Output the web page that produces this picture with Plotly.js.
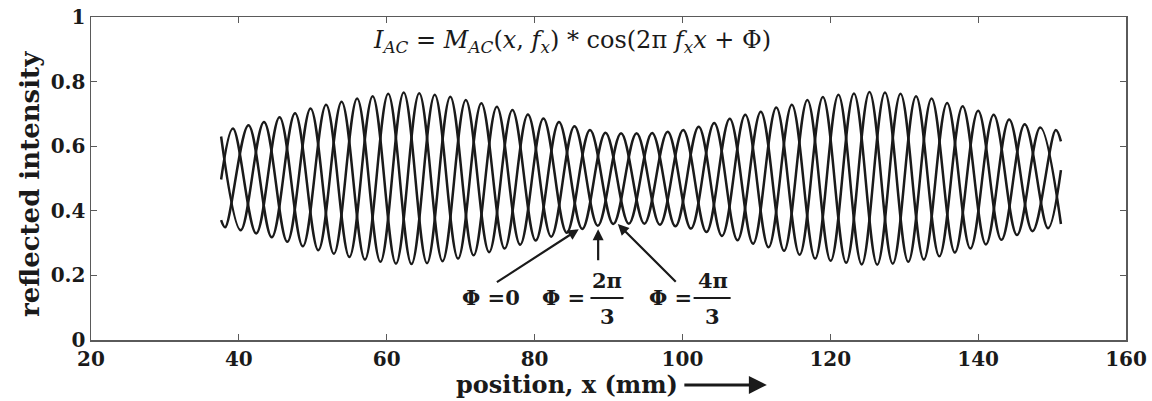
<!DOCTYPE html>
<html>
<head>
<meta charset="utf-8">
<script src="https://cdn.plot.ly/plotly-3.0.1.min.js"></script>
<style>
  body { margin: 0; background: #fff; }
  #chart { width: 1152px; height: 401px; }
</style>
</head>
<body>
<div id="chart"></div>
<script>
// peaks and troughs of each fringe curve (x in mm)
let xPhi0 = [37.6, 39.2, 42.35, 45.5, 48.65, 51.8, 54.95, 58.1, 61.25, 64.4, 67.55, 70.7, 73.85, 77.0,
  80.15, 83.3, 86.45, 89.6, 92.75, 95.9, 99.05, 102.2, 105.35, 108.5, 111.65, 114.8, 117.95, 121.1,
  124.25, 127.4, 130.55, 133.7, 136.85, 140.0, 143.15, 146.3, 149.45, 151.2];
let yPhi0 = [0.497, 0.655, 0.330, 0.690, 0.290, 0.728, 0.257, 0.755, 0.236, 0.764, 0.244, 0.743, 0.272,
  0.712, 0.308, 0.675, 0.344, 0.642, 0.360, 0.641, 0.352, 0.660, 0.322, 0.697, 0.287, 0.728, 0.252,
  0.759, 0.234, 0.766, 0.242, 0.748, 0.271, 0.710, 0.310, 0.668, 0.346, 0.526];

let xPhi2 = [37.6, 38.15, 41.3, 44.45, 47.6, 50.75, 53.9, 57.05, 60.2, 63.35, 66.5, 69.65, 72.8, 75.95,
  79.1, 82.25, 85.4, 88.55, 91.7, 94.85, 98.0, 101.15, 104.3, 107.45, 110.6, 113.75, 116.9, 120.05,
  123.2, 126.35, 129.5, 132.65, 135.8, 138.95, 142.1, 145.25, 148.4, 151.2];
let yPhi2 = [0.371, 0.349, 0.665, 0.318, 0.702, 0.278, 0.738, 0.249, 0.762, 0.235, 0.759, 0.252, 0.733,
  0.283, 0.698, 0.320, 0.662, 0.354, 0.640, 0.360, 0.645, 0.345, 0.672, 0.309, 0.707, 0.276, 0.743,
  0.245, 0.763, 0.233, 0.762, 0.249, 0.734, 0.283, 0.697, 0.325, 0.658, 0.359];

let xPhi4 = [37.6, 40.25, 43.4, 46.55, 49.7, 52.85, 56.0, 59.15, 62.3, 65.45, 68.6, 71.75, 74.9, 78.05,
  81.2, 84.35, 87.5, 90.65, 93.8, 96.95, 100.1, 103.25, 106.4, 109.55, 112.7, 115.85, 119.0, 122.15,
  125.3, 128.45, 131.6, 134.75, 137.9, 141.05, 144.2, 147.35, 150.5, 151.2];
let yPhi4 = [0.630, 0.340, 0.675, 0.304, 0.717, 0.267, 0.748, 0.242, 0.766, 0.238, 0.753, 0.262, 0.722,
  0.295, 0.686, 0.332, 0.650, 0.359, 0.640, 0.357, 0.650, 0.334, 0.685, 0.298, 0.720, 0.264, 0.752,
  0.239, 0.768, 0.236, 0.755, 0.259, 0.724, 0.296, 0.683, 0.337, 0.650, 0.615];

let phaseNames = ['Φ = 0', 'Φ = 2π/3', 'Φ = 4π/3'];

let serif = 'DejaVu Serif';
let ink = '#1a1a1a';

function fringe(x, y, name) {
  return {
    x: x,
    y: y,
    name: name,
    type: 'scatter',
    mode: 'lines',
    line: { color: ink, width: 2.5, shape: 'spline', smoothing: 1 },
    hoverinfo: 'skip'
  };
}

let traces = [
  fringe(xPhi0, yPhi0, phaseNames[0]),
  fringe(xPhi2, yPhi2, phaseNames[1]),
  fringe(xPhi4, yPhi4, phaseNames[2])
];

let axisStyle = {
  showgrid: false,
  zeroline: false,
  showline: true,
  linecolor: '#5a5a5a',
  linewidth: 1.5,
  mirror: 'ticks',
  ticks: 'inside',
  ticklen: 6,
  tickwidth: 1.2,
  tickcolor: '#5a5a5a',
  tickfont: { family: serif, size: 20, color: ink, weight: 'bold' },
  fixedrange: true
};

let boldFont = { family: serif, size: 21, color: ink, weight: 'bold' };

function label(x, y, text) {
  return { x: x, y: y, xref: 'x', yref: 'y', text: text, showarrow: false,
    xanchor: 'center', yanchor: 'middle', font: boldFont };
}

function pointer(x, y, ax, ay) {
  return { x: x, y: y, ax: ax, ay: ay, xref: 'x', yref: 'y', axref: 'x', ayref: 'y',
    text: '', showarrow: true, arrowhead: 2, arrowsize: 1, arrowwidth: 2.2,
    arrowcolor: ink, standoff: 0 };
}

let layout = {
  width: 1152,
  height: 401,
  margin: { l: 91, r: 26, t: 17, b: 61 },
  paper_bgcolor: '#fff',
  plot_bgcolor: '#fff',
  showlegend: false,
  xaxis: Object.assign({ range: [20, 160], tick0: 20, dtick: 20 }, axisStyle),
  yaxis: Object.assign({ range: [0, 1], tick0: 0, dtick: 0.2 }, axisStyle),
  shapes: [
    { type: 'line', xref: 'x', yref: 'y', x0: 87.56, x1: 92.03, y0: 0.13, y1: 0.13,
      line: { color: ink, width: 2 } },
    { type: 'line', xref: 'x', yref: 'y', x0: 101.51, x1: 106.52, y0: 0.13, y1: 0.13,
      line: { color: ink, width: 2 } }
  ],
  annotations: [
    {
      x: 85.1, y: 0.923, xref: 'x', yref: 'y', showarrow: false,
      xanchor: 'center', yanchor: 'middle',
      text: '<i>I</i><sub><i>AC</i></sub> = <i>M</i><sub><i>AC</i></sub>(<i>x</i>, <i>f</i><sub><i>x</i></sub>) * cos(2π <i>f</i><sub><i>x</i></sub><i>x</i> + Φ)',
      font: { family: serif, size: 24, color: ink }
    },
    {
      x: -0.059, y: 0.483, xref: 'paper', yref: 'paper', showarrow: false,
      xanchor: 'center', yanchor: 'middle',
      text: 'reflected intensity', textangle: -90,
      font: { family: serif, size: 26, color: ink, weight: 'bold' }
    },
    {
      x: 0.46, y: -0.139, xref: 'paper', yref: 'paper', showarrow: false,
      text: 'position, x (mm)', xanchor: 'center', yanchor: 'middle',
      font: { family: serif, size: 24, color: ink, weight: 'bold' }
    },
    {
      x: 0.653, y: -0.139, xref: 'paper', yref: 'paper', ax: -84, ay: 0,
      text: '', showarrow: true, arrowhead: 2, arrowsize: 1.2, arrowwidth: 3,
      arrowcolor: ink, standoff: 0
    },
    label(74.16, 0.133, 'Φ =0'),
    label(83.97, 0.133, 'Φ ='),
    label(89.8, 0.183, '2π'),
    label(89.8, 0.074, '3'),
    label(98.39, 0.133, 'Φ ='),
    label(104.08, 0.183, '4π'),
    label(104.08, 0.074, '3'),
    pointer(85.98, 0.343, 74.7, 0.176),
    pointer(88.6, 0.343, 88.6, 0.242),
    pointer(91.26, 0.359, 99.3, 0.176)
  ]
};

Plotly.newPlot('chart', traces, layout, { displayModeBar: false, staticPlot: true });
</script>
</body>
</html>
